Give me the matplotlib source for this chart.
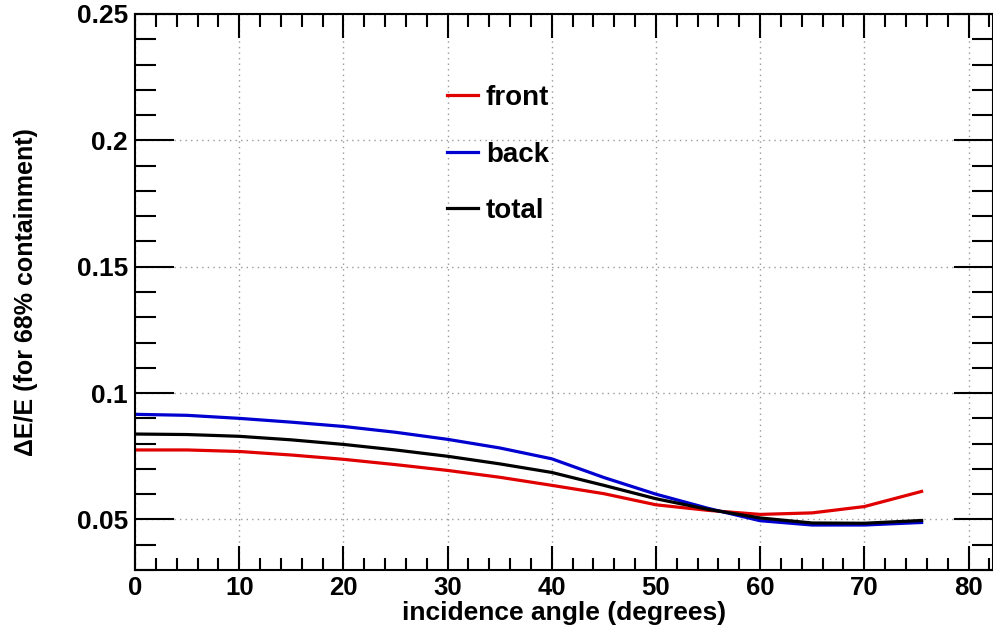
import matplotlib
matplotlib.use("Agg")
import matplotlib.pyplot as plt
from matplotlib.ticker import MultipleLocator

angles = [0, 5, 10, 15, 20, 25, 30, 35, 40, 45, 50, 55, 60, 65, 70, 75.5]
front = [0.0775, 0.0775, 0.0769, 0.0755, 0.0738, 0.0717, 0.0694, 0.0667, 0.0635,
         0.0602, 0.0558, 0.0536, 0.0520, 0.0526, 0.0551, 0.0611]
back = [0.0916, 0.0912, 0.0900, 0.0885, 0.0868, 0.0845, 0.0817, 0.0783, 0.0740,
        0.0666, 0.0600, 0.0544, 0.0495, 0.0478, 0.0478, 0.0488]
total = [0.0838, 0.0836, 0.0829, 0.0815, 0.0797, 0.0775, 0.0750, 0.0720, 0.0686,
         0.0635, 0.0582, 0.0540, 0.0506, 0.0486, 0.0485, 0.0496]
labels = ["front", "back", "total"]
colors = ["#e00000", "#0000d0", "#000000"]

plt.rcParams['font.family'] = ['Liberation Sans', 'DejaVu Sans']

fig = plt.figure(figsize=(9.93, 6.26), dpi=100)
ax = fig.add_axes([135/993, 1-570/626, (993-135)/993, (570-14)/626])

for ys, lab, c in zip([front, back, total], labels, colors):
    ax.plot(angles, ys, color=c, lw=2.3, label=lab)

ax.set_xlim(0, 82.35)
ax.set_ylim(0.03, 0.25)
ax.xaxis.set_major_locator(MultipleLocator(10))
ax.xaxis.set_minor_locator(MultipleLocator(2))
ax.yaxis.set_major_locator(MultipleLocator(0.05))
ax.yaxis.set_minor_locator(MultipleLocator(0.01))
ax.yaxis.set_major_formatter(plt.FuncFormatter(lambda v, p: ("%.2f" % v).rstrip('0').rstrip('.') if abs(v-0.1) < 1e-9 or abs(v-0.2) < 1e-9 else "%.2f" % v))

ax.tick_params(axis='both', which='both', direction='in', top=True, right=True, width=1.5, color='black')
ax.tick_params(axis='x', which='major', length=17, labelsize=18.5, pad=4)
ax.tick_params(axis='x', which='minor', length=9)
ax.tick_params(axis='y', which='major', length=28, labelsize=19, pad=5)
ax.tick_params(axis='y', which='minor', length=15)
for lbl in ax.get_xticklabels() + ax.get_yticklabels():
    lbl.set_fontweight('bold')

for s in ax.spines.values():
    s.set_linewidth(1.5)

ax.grid(True, which='major', linestyle=(0, (1, 3)), color='#999999', lw=1.0)

ax.set_xlabel("incidence angle (degrees)", fontsize=19, fontweight='bold', labelpad=1)
ax.set_ylabel("ΔE/E (for 68% containment)", fontsize=18, fontweight='bold')
ax.yaxis.set_label_coords(-(135-38)/858, (570-292)/556)

leg = ax.legend(loc='upper left', bbox_to_anchor=((447-135)/858, (570-85)/556),
                frameon=False, prop={'size': 20, 'weight': 'bold'},
                borderpad=0, borderaxespad=0,
                handlelength=1.1, handletextpad=0.3, labelspacing=1.1)

fig.savefig("out.png", dpi=100)
